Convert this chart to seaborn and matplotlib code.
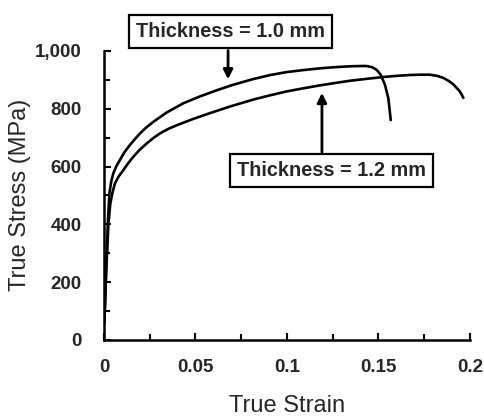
import matplotlib
matplotlib.use("Agg")
import matplotlib.pyplot as plt
import seaborn as sns
import pandas as pd
from matplotlib.ticker import MultipleLocator, FuncFormatter

# ---- data ----
strain_10 = [0.0002, 0.0012, 0.0022, 0.0030, 0.0040, 0.0051, 0.0068, 0.0087, 0.0112, 0.0142,
             0.0170, 0.0197, 0.0230, 0.0270, 0.0342, 0.0433, 0.0525, 0.0616, 0.0700,
             0.0816, 0.0910, 0.0998, 0.1090, 0.1180, 0.1260, 0.1344, 0.1400,
             0.1435, 0.1465, 0.1490, 0.1512, 0.1536, 0.1554, 0.1567]
stress_10 = [60, 250, 420, 510, 550, 577, 602, 623, 650, 675,
             696, 715, 735, 755, 787, 819, 843, 864, 882,
             903, 917, 927, 934, 940, 944, 947, 948,
             948, 944, 935, 918, 882, 836, 761]

strain_12 = [0.0002, 0.0012, 0.0024, 0.0034, 0.0046, 0.0060, 0.0080, 0.0106, 0.0130, 0.0160,
             0.0195, 0.0233, 0.0270, 0.0306, 0.0350, 0.0397, 0.0488, 0.0579, 0.0689,
             0.0816, 0.0910, 0.0998, 0.1090, 0.1180, 0.1260, 0.1344, 0.1440, 0.1527,
             0.1600, 0.1672, 0.1730, 0.1780, 0.1820, 0.1854, 0.1885, 0.1910, 0.1945, 0.1964]
stress_12 = [60, 240, 400, 470, 510, 542, 566, 588, 610, 634,
             658, 680, 699, 715, 730, 743, 765, 785, 808,
             832, 847, 860, 871, 881, 889, 897, 904, 910,
             914, 917, 918, 918, 914, 907, 896, 884, 860, 838]

labels = ["Thickness = 1.0 mm", "Thickness = 1.2 mm"]
y_ticks = [0, 200, 400, 600, 800, 1000]
x_ticks = [0, 0.05, 0.1, 0.15, 0.2]

df = pd.concat([
    pd.DataFrame({"strain": strain_10, "stress": stress_10, "series": labels[0]}),
    pd.DataFrame({"strain": strain_12, "stress": stress_12, "series": labels[1]}),
], ignore_index=True)

sns.set_style("white")
plt.rcParams["font.family"] = ["Liberation Sans", "DejaVu Sans"]

fig = plt.figure(figsize=(4.84, 4.17), dpi=100)
ax = fig.add_axes([0.2149, 0.1847, 0.971 - 0.2149, 0.8777 - 0.1847])

sns.lineplot(data=df, x="strain", y="stress", hue="series", sort=False,
             palette={labels[0]: "black", labels[1]: "black"},
             linewidth=1.9, legend=False, ax=ax, estimator=None)
for line in ax.get_lines():
    line.set_solid_joinstyle("round")

ax.set_xlim(0, 0.2)
ax.set_ylim(0, 1000)
ax.set_xticks(x_ticks)
ax.set_yticks(y_ticks)
ax.xaxis.set_minor_locator(MultipleLocator(0.025))
ax.yaxis.set_minor_locator(MultipleLocator(100))
ax.xaxis.set_major_formatter(FuncFormatter(lambda v, p: f"{v:g}"))
ax.yaxis.set_major_formatter(FuncFormatter(lambda v, p: f"{int(v):,}"))

for s in ["top", "right"]:
    ax.spines[s].set_visible(False)
for s in ["left", "bottom"]:
    ax.spines[s].set_color("black")
    ax.spines[s].set_linewidth(1.8)

ax.tick_params(which="both", direction="in", color="black", width=1.5,
               bottom=True, left=True, top=False, right=False)
ax.tick_params(which="major", length=5)
ax.tick_params(which="minor", length=4)
ax.tick_params(axis="y", which="major", pad=16, labelsize=13.5)
ax.tick_params(axis="x", which="major", pad=14, labelsize=13.5)
for lab in ax.get_xticklabels() + ax.get_yticklabels():
    lab.set_fontweight("bold")

ax.set_xlabel("True Strain", fontsize=17)
ax.set_ylabel("True Stress (MPa)", fontsize=17)
ax.xaxis.set_label_coords((287 - 104) / 366, (340 - 406) / 289)
ax.yaxis.set_label_coords((20 - 104) / 366, (340 - 195) / 289)
ax.xaxis.label.set_va("center")
ax.yaxis.label.set_va("center")

box = dict(boxstyle="square,pad=0.35", fc="white", ec="black", lw=1.6)
ax.text(0.0689, 1066, labels[0], ha="center", va="center", fontsize=14.3,
        fontweight="bold", bbox=box, clip_on=False)
ax.text(0.1241, 585, labels[1], ha="center", va="center", fontsize=14.3,
        fontweight="bold", bbox=box, clip_on=False)

arrow = dict(arrowstyle="-|>", color="black", lw=2, mutation_scale=14,
             shrinkA=0, shrinkB=0)
ax.annotate("", xy=(0.0678, 902), xytext=(0.0678, 1002), arrowprops=arrow,
            annotation_clip=False)
ax.annotate("", xy=(0.1191, 855), xytext=(0.1191, 650), arrowprops=arrow)

fig.savefig("out.png", dpi=100)
